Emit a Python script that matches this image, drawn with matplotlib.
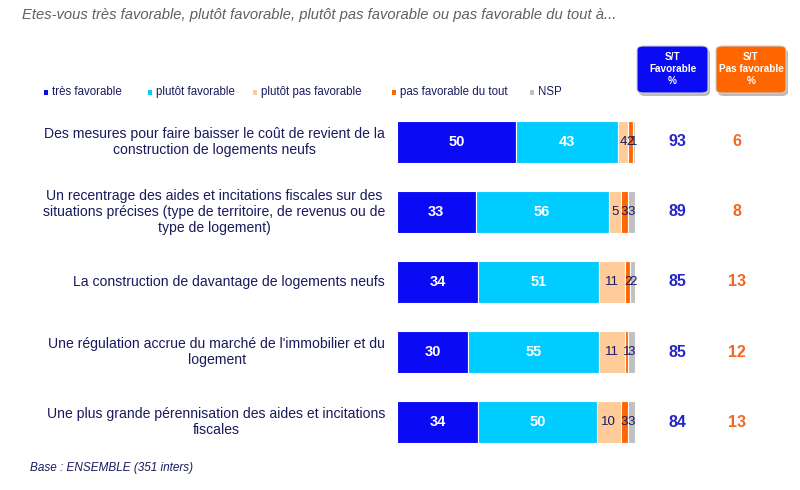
import matplotlib
matplotlib.use("Agg")
import matplotlib.pyplot as plt
from matplotlib.patches import FancyBboxPatch, Rectangle

plt.rcParams['font.family'] = ['Liberation Sans', 'DejaVu Sans']

categories = [
    "Des mesures pour faire baisser le coût de revient de la\nconstruction de logements neufs",
    "Un recentrage des aides et incitations fiscales sur des\nsituations précises (type de territoire, de revenus ou de\ntype de logement)",
    "La construction de davantage de logements neufs",
    "Une régulation accrue du marché de l'immobilier et du\nlogement",
    "Une plus grande pérennisation des aides et incitations\nfiscales",
]
series_names = ["très favorable", "plutôt favorable", "plutôt pas favorable",
                "pas favorable du tout", "NSP"]
tres_fav = [50, 33, 34, 30, 34]
plutot_fav = [43, 56, 51, 55, 50]
plutot_pas = [4, 5, 11, 11, 10]
pas_du_tout = [2, 3, 2, 1, 3]
nsp = [1, 3, 2, 3, 3]
st_fav = [93, 89, 85, 85, 84]
st_pas_fav = [6, 8, 13, 12, 13]

series = [tres_fav, plutot_fav, plutot_pas, pas_du_tout, nsp]
colors = ["#0A0AF5", "#00CCFF", "#FFCC99", "#FF6600", "#C0C0C0"]
label_colors = ["white", "white", "#1A1A5E", "#1A1A5E", "#1A1A5E"]
label_weights = ["bold", "bold", "normal", "normal", "normal"]

W, H = 800, 490
fig = plt.figure(figsize=(8, 4.9), dpi=100)
fig.patch.set_facecolor("white")

def fx(px):
    return px / W

def fy(py):
    return 1 - py / H

# bars axes: x 397->635 px, rows spaced 70px, first centered at 142
ax = fig.add_axes([fx(397), fy(457), fx(635) - fx(397), (457 - 107) / H])
ax.set_xlim(0, 100)
ax.set_ylim(4.5, -0.5)
ax.axis("off")

n = len(categories)
lefts = [0] * n
for s, vals in enumerate(series):
    ax.barh(range(n), vals, left=lefts, height=0.59, color=colors[s],
            edgecolor="white", linewidth=0.8)
    for i, v in enumerate(vals):
        if v > 0:
            ax.text(lefts[i] + v / 2, i, str(v), ha="center", va="center",
                    color=label_colors[s], fontweight=label_weights[s],
                    fontsize=10.5 if s < 2 else 9.5)
    lefts = [l + v for l, v in zip(lefts, vals)]

# category labels
for i, cat in enumerate(categories):
    ax.text(-5, i, cat, ha="right", va="center", multialignment="center",
            fontsize=10.1, color="#1A1A5E", linespacing=1.15,
            transform=ax.transData, clip_on=False)

# S/T values
for i in range(n):
    ax.annotate(str(st_fav[i]), xy=(0, i), xycoords=("figure fraction", "data"),
                xytext=(fx(677), 0), textcoords=("figure fraction", "offset points"),
                ha="center", va="center", fontsize=11.5, fontweight="bold", color="#2424C8")
    ax.annotate(str(st_pas_fav[i]), xy=(0, i), xycoords=("figure fraction", "data"),
                xytext=(fx(737), 0), textcoords=("figure fraction", "offset points"),
                ha="center", va="center", fontsize=11.5, fontweight="bold", color="#F26522")

# header boxes
def header_box(x0, x1, color, text):
    y0, y1 = 46, 93
    shadow = FancyBboxPatch((fx(x0 + 2), fy(y1 + 3)), fx(x1 - x0), (y1 - y0) / H,
                            boxstyle="round,pad=0,rounding_size=0.008",
                            transform=fig.transFigure, facecolor="#BBBBBB",
                            edgecolor="none", zorder=1)
    box = FancyBboxPatch((fx(x0), fy(y1)), fx(x1 - x0), (y1 - y0) / H,
                         boxstyle="round,pad=0,rounding_size=0.008",
                         transform=fig.transFigure, facecolor=color,
                         edgecolor="#D0D0D0", linewidth=0.8, zorder=2)
    fig.patches.extend([shadow, box])
    fig.text(fx((x0 + x1) / 2), fy((y0 + y1) / 2), text, ha="center", va="center",
             color="white", fontweight="bold", fontsize=7.2, linespacing=1.25,
             zorder=3)

header_box(637, 708, "#0A0AF5", "S/T\nFavorable\n%")
header_box(716, 786, "#FF6600", "S/T\nPas favorable\n%")

# title
fig.text(fx(22), fy(15), "Etes-vous très favorable, plutôt favorable, plutôt pas favorable ou pas favorable du tout à...",
         ha="left", va="center", fontsize=10.6, style="italic", color="#606060")

# legend
legend_x = [44, 148, 253, 392, 530]
for xpos, name, col in zip(legend_x, series_names, colors):
    fig.patches.append(Rectangle((fx(xpos), fy(95)), fx(4), 5 / H,
                                 transform=fig.transFigure, facecolor=col,
                                 edgecolor="none"))
    fig.text(fx(xpos + 8), fy(92), name, ha="left", va="center",
             fontsize=8.3, color="#1A1A5E")

# footer
fig.text(fx(30), fy(468), "Base : ENSEMBLE (351 inters)", ha="left", va="center",
         fontsize=8.5, style="italic", color="#1A1A5E")

fig.savefig("out.png", dpi=100, facecolor="white")
